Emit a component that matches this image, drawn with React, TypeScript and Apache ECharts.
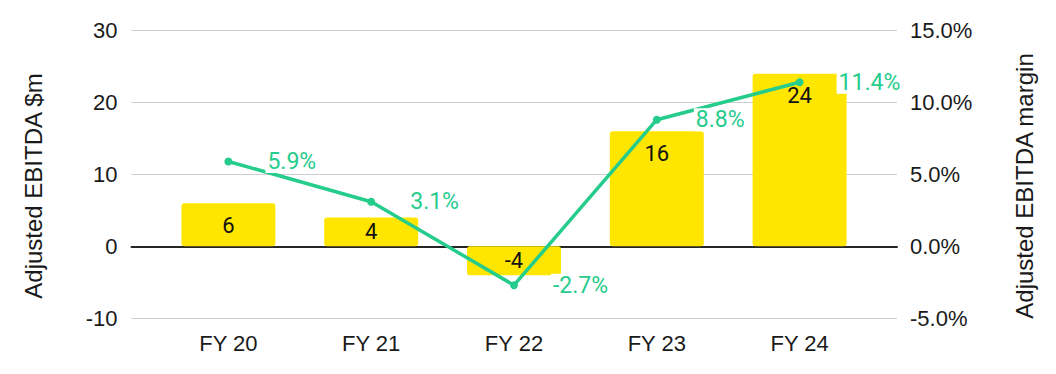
import React, { useEffect, useRef } from "react";
import * as echarts from "echarts";

const categories = ["FY 20", "FY 21", "FY 22", "FY 23", "FY 24"];
const ebitda = [6, 4, -4, 16, 24];
const margin = [5.9, 3.1, -2.7, 8.8, 11.4];
const leftTicks = { min: -10, max: 30, interval: 10 };
const rightTicks = { min: -5, max: 15, interval: 5 };
const leftName = "Adjusted EBITDA $m";
const rightName = "Adjusted EBITDA margin";

const YELLOW = "#FFE600";
const GREEN = "#25cc8c";
const AXIS_FONT = "'Liberation Sans', Arial, sans-serif";
const LABEL_FONT = "Roboto, 'Liberation Sans', sans-serif";

export default function App() {
  const ref = useRef<HTMLDivElement>(null);
  useEffect(() => {
    document.body.style.margin = "0";
    const chart = echarts.init(ref.current!, null, { renderer: "svg" });
    const gridTop = 30.5;
    const gridBottom = 55.7;
    chart.setOption({
      animation: false,
      backgroundColor: "#ffffff",
      grid: [
        { left: 131.5, right: 159, top: gridTop, bottom: gridBottom },
        { left: 157, right: 185, top: gridTop, bottom: gridBottom },
      ],
      xAxis: [
        {
          type: "category",
          gridIndex: 0,
          data: categories,
          axisLabel: { show: false },
          axisTick: { show: false },
          axisLine: { show: true, onZero: true, lineStyle: { color: "#262626", width: 2 } },
          splitLine: { show: false },
        },
        {
          type: "category",
          gridIndex: 1,
          data: categories,
          position: "bottom",
          axisTick: { show: false },
          axisLine: { show: false, onZero: false },
          axisLabel: { color: "#1a1a1a", fontSize: 22, fontFamily: AXIS_FONT, margin: 14 },
        },
      ],
      yAxis: [
        {
          type: "value",
          gridIndex: 0,
          position: "left",
          ...leftTicks,
          axisLine: { show: false },
          axisTick: { show: false },
          axisLabel: { color: "#1a1a1a", fontSize: 22, fontFamily: AXIS_FONT, margin: 14 },
          splitLine: { show: true, lineStyle: { color: "#cfcfcf", width: 1 } },
        },
        {
          type: "value",
          gridIndex: 0,
          position: "right",
          ...rightTicks,
          axisLine: { show: false },
          axisTick: { show: false },
          axisLabel: {
            color: "#1a1a1a",
            fontSize: 22,
            fontFamily: AXIS_FONT,
            margin: 13,
            formatter: (v: number) => v.toFixed(1) + "%",
          },
          splitLine: { show: false },
        },
        { type: "value", gridIndex: 1, ...leftTicks, show: false, splitLine: { show: false } },
        { type: "value", gridIndex: 1, ...rightTicks, show: false, splitLine: { show: false } },
      ],
      graphic: [
        {
          type: "text",
          x: 33,
          y: 186,
          rotation: Math.PI / 2,
          style: {
            text: leftName,
            fontSize: 24,
            fontFamily: AXIS_FONT,
            fill: "#1a1a1a",
            textAlign: "center",
            textVerticalAlign: "middle",
          },
        },
        {
          type: "text",
          x: 1024,
          y: 186,
          rotation: Math.PI / 2,
          style: {
            text: rightName,
            fontSize: 24,
            fontFamily: AXIS_FONT,
            fill: "#1a1a1a",
            textAlign: "center",
            textVerticalAlign: "middle",
          },
        },
      ],
      series: [
        {
          type: "bar",
          xAxisIndex: 1,
          yAxisIndex: 2,
          barWidth: 94,
          data: ebitda.map((v) => ({
            value: v,
            label: { position: Math.abs(v) < 5 ? "inside" : "insideTop" },
          })),
          itemStyle: { color: YELLOW, borderRadius: 3 },
          label: {
            show: true,
            color: "#111111",
            fontSize: 22,
            fontFamily: LABEL_FONT,
            distance: 11,
          },
          z: 2,
        },
        {
          type: "line",
          xAxisIndex: 1,
          yAxisIndex: 3,
          data: margin,
          symbol: "circle",
          symbolSize: 8,
          lineStyle: { color: GREEN, width: 3.5 },
          itemStyle: { color: GREEN },
          label: {
            show: true,
            position: "right",
            distance: 33,
            color: GREEN,
            fontSize: 23,
            fontFamily: LABEL_FONT,
            backgroundColor: "#ffffff",
            padding: [0, 2],
            formatter: (p: any) => p.value.toFixed(1) + "%",
          },
          z: 3,
        },
      ],
    });
    return () => chart.dispose();
  }, []);
  return <div ref={ref} style={{ width: 1056, height: 374 }} />;
}
